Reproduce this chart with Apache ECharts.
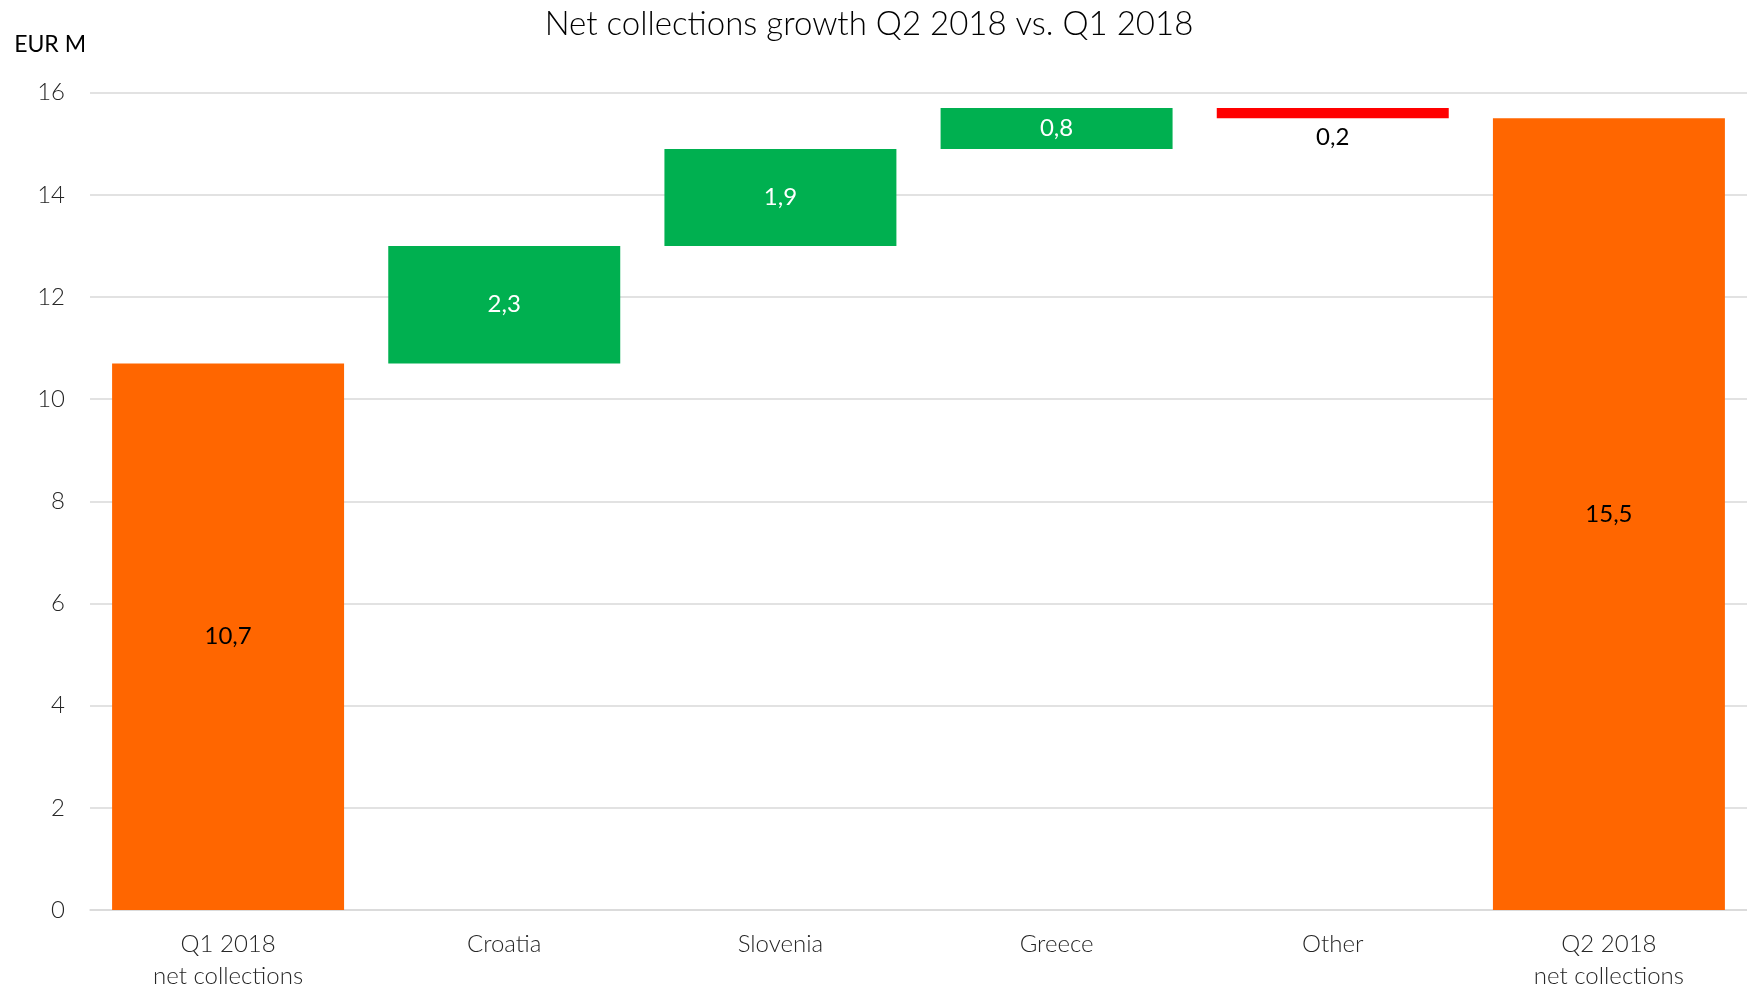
<!DOCTYPE html>
<html>
<head>
<meta charset="utf-8">
<title>Net collections growth Q2 2018 vs. Q1 2018</title>
<script src="https://cdn.jsdelivr.net/npm/echarts@6/dist/echarts.min.js"></script>
<style>
  html, body { margin: 0; padding: 0; background: #ffffff; }
  #chart { width: 1747px; height: 992px; }
</style>
</head>
<body>
<div id="chart"></div>
<script>
// Waterfall: opening total, per-country changes, closing total (EUR M)
const categories = ['Q1 2018\nnet collections', 'Croatia', 'Slovenia', 'Greece', 'Other', 'Q2 2018\nnet collections'];
const values = [10.7, 2.3, 1.9, 0.8, -0.2, 15.5];
const isTotal = [true, false, false, false, false, true];
const yTicks = { min: 0, max: 16, interval: 2 };

const ORANGE = '#FF6600';
const GREEN = '#00B050';
const RED = '#FF0000';
const FONT = 'Lato, "Open Sans", sans-serif';

// Invisible offsets and visible floating segments for the waterfall stack
const offsets = [];
const segments = [];
let running = 0;
values.forEach((v, i) => {
  let base;
  if (isTotal[i]) {
    base = 0;
    running = v;
  } else if (v >= 0) {
    base = running;
    running += v;
  } else {
    running += v;
    base = running;
  }
  offsets.push(+base.toFixed(4));
  const color = isTotal[i] ? ORANGE : (v >= 0 ? GREEN : RED);
  const labelColor = isTotal[i] ? '#000000' : (v >= 0 ? '#ffffff' : '#000000');
  segments.push({
    value: +Math.abs(v).toFixed(4),
    itemStyle: { color: color },
    label: {
      position: (!isTotal[i] && v < 0) ? 'bottom' : 'inside',
      distance: 7,
      color: labelColor
    }
  });
});

const fmt = (n) => n.toFixed(1).replace('.', ',');

const chart = echarts.init(document.getElementById('chart'), null, { renderer: 'canvas' });
chart.setOption({
  backgroundColor: '#ffffff',
  animation: false,
  title: {
    text: 'Net collections growth Q2 2018 vs. Q1 2018',
    left: 864,
    top: 3,
    textAlign: 'center',
    textStyle: { fontFamily: FONT, fontWeight: 300, fontSize: 33, color: '#000000' }
  },
  grid: { left: 90, right: 0, top: 92.7, bottom: 80.5 },
  xAxis: {
    type: 'category',
    data: categories,
    axisTick: { show: false },
    axisLine: { lineStyle: { color: '#D9D9D9', width: 1.5 } },
    axisLabel: {
      color: '#262626',
      fontFamily: FONT,
      fontWeight: 300,
      fontSize: 24,
      lineHeight: 32,
      margin: 18,
      interval: 0
    }
  },
  yAxis: {
    type: 'value',
    min: yTicks.min,
    max: yTicks.max,
    interval: yTicks.interval,
    name: 'EUR M',
    nameLocation: 'end',
    nameGap: 48,
    nameTextStyle: {
      fontFamily: FONT,
      fontSize: 23,
      color: '#000000',
      align: 'right',
      verticalAlign: 'middle',
      padding: [0, 4, 0, 0]
    },
    axisLine: { show: false },
    axisTick: { show: false },
    splitLine: { lineStyle: { color: '#D9D9D9', width: 1.5 } },
    axisLabel: {
      color: '#262626',
      fontFamily: FONT,
      fontWeight: 300,
      fontSize: 24,
      margin: 25
    }
  },
  series: [
    {
      name: 'offset',
      type: 'bar',
      stack: 'waterfall',
      data: offsets,
      itemStyle: { color: 'transparent' },
      emphasis: { disabled: true },
      silent: true,
      barCategoryGap: '16%'
    },
    {
      name: 'change',
      type: 'bar',
      stack: 'waterfall',
      data: segments,
      barCategoryGap: '16%',
      label: {
        show: true,
        fontFamily: FONT,
        fontSize: 24,
        formatter: (p) => fmt(values[p.dataIndex] < 0 ? -values[p.dataIndex] : values[p.dataIndex])
      }
    }
  ]
});
</script>
</body>
</html>
